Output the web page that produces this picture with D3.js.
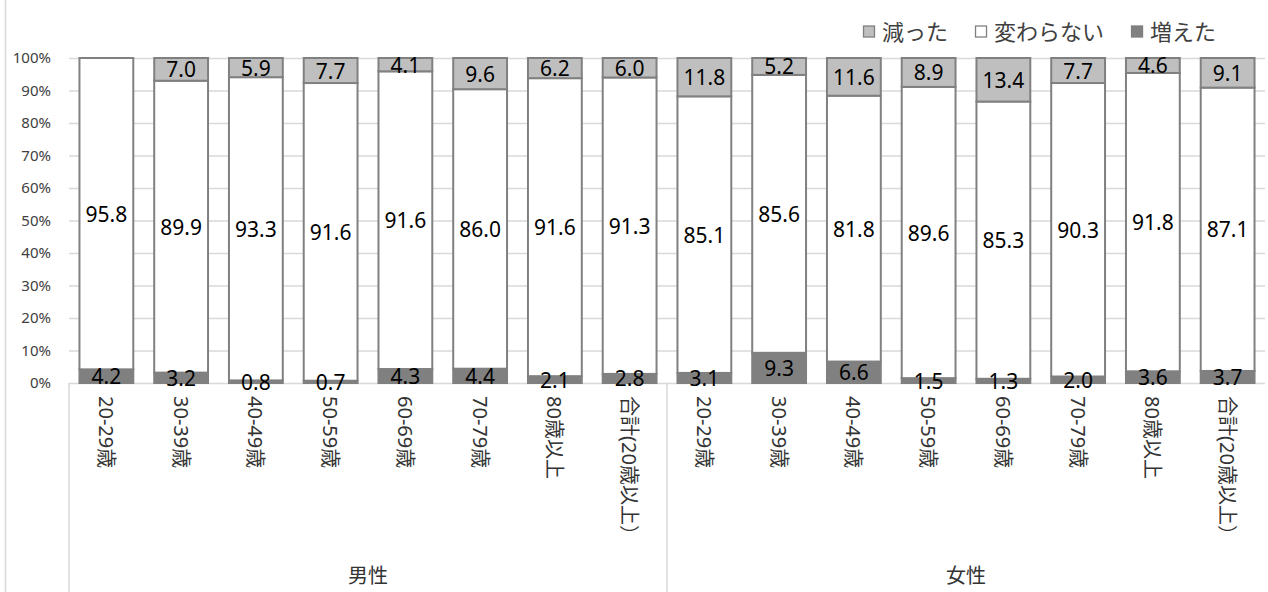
<!DOCTYPE html>
<html><head><meta charset="utf-8">
<script src="https://cdn.jsdelivr.net/npm/d3@7"></script>
<style>
body{margin:0;background:#fff}
svg{display:block}
text{font-family:"Noto Sans","Noto Sans CJK JP",sans-serif}
</style>
</head><body>
<svg id="c" width="1268" height="592"></svg>
<script>
// ---- data ----
const groups = ["男性", "女性"];
const ageLabels = ["20-29歳", "30-39歳", "40-49歳", "50-59歳", "60-69歳", "70-79歳", "80歳以上", "合計(20歳以上）"];
const seriesNames = ["増えた", "変わらない", "減った"];
const legendOrder = ["減った", "変わらない", "増えた"];
const yTickValues = [0, 0.1, 0.2, 0.3, 0.4, 0.5, 0.6, 0.7, 0.8, 0.9, 1.0];

const maleIncreased  = [4.2, 3.2, 0.8, 0.7, 4.3, 4.4, 2.1, 2.8];
const maleSame       = [95.8, 89.9, 93.3, 91.6, 91.6, 86.0, 91.6, 91.3];
const maleDecreased  = [0, 7.0, 5.9, 7.7, 4.1, 9.6, 6.2, 6.0];
const femaleIncreased = [3.1, 9.3, 6.6, 1.5, 1.3, 2.0, 3.6, 3.7];
const femaleSame      = [85.1, 85.6, 81.8, 89.6, 85.3, 90.3, 91.8, 87.1];
const femaleDecreased = [11.8, 5.2, 11.6, 8.9, 13.4, 7.7, 4.6, 9.1];

// ---- build rows ----
const rows = [];
groups.forEach((g, gi) => {
  const inc = gi === 0 ? maleIncreased : femaleIncreased;
  const same = gi === 0 ? maleSame : femaleSame;
  const dec = gi === 0 ? maleDecreased : femaleDecreased;
  ageLabels.forEach((a, i) => {
    rows.push({key: g + "|" + a, group: g, age: a, "増えた": inc[i], "変わらない": same[i], "減った": dec[i]});
  });
});

const colors = {"増えた": "#808080", "変わらない": "#ffffff", "減った": "#bfbfbf"};

// ---- layout ----
const W = 1268, H = 592;
const plot = {left: 69, right: 1265, top: 58, bottom: 383};
const svg = d3.select("#c");

const x = d3.scaleBand().domain(rows.map(d => d.key))
  .range([plot.left, plot.right]).paddingInner(0.28).paddingOuter(0.14);
const y = d3.scaleLinear().domain([0, 1]).range([plot.bottom, plot.top]);

// left frame line
svg.append("line").attr("x1", 5.5).attr("x2", 5.5).attr("y1", 0).attr("y2", H)
  .attr("stroke", "#d9d9d9").attr("stroke-width", 1.5);

// y axis + gridlines
const yAxis = d3.axisLeft(y).tickValues(yTickValues).tickFormat(d3.format(".0%"))
  .tickSizeInner(-(plot.right - plot.left)).tickSizeOuter(0).tickPadding(18);
const ga = svg.append("g").attr("transform", `translate(${plot.left},0)`).call(yAxis);
ga.select(".domain").remove();
ga.selectAll(".tick line").attr("stroke", "#d9d9d9").attr("stroke-width", 1.5);
ga.selectAll(".tick text").attr("font-size", 15).attr("fill", "#404040")
  .style("font-family", '"Noto Sans","Noto Sans CJK JP",sans-serif');

// group separators in axis area
const step = x.step();
d3.range(groups.length).forEach(gi => {
  const xs = plot.left + gi * ageLabels.length * step;
  svg.append("line").attr("x1", xs).attr("x2", xs).attr("y1", plot.bottom).attr("y2", H)
    .attr("stroke", "#d9d9d9").attr("stroke-width", 1.5);
});

// stacked bars
const stack = d3.stack().keys(seriesNames).offset(d3.stackOffsetExpand);
const series = stack(rows);

series.forEach(s => {
  const g = svg.append("g");
  s.forEach(seg => {
    if (seg.data[s.key] <= 0) return;
    g.append("rect")
      .attr("x", x(seg.data.key))
      .attr("width", x.bandwidth())
      .attr("y", y(seg[1]))
      .attr("height", y(seg[0]) - y(seg[1]))
      .attr("fill", colors[s.key])
      .attr("stroke", "#808080")
      .attr("stroke-width", 2);
  });
});

// data labels
series.forEach(s => {
  s.forEach(seg => {
    const v = seg.data[s.key];
    if (v <= 0) return;
    svg.append("text")
      .attr("x", x(seg.data.key) + x.bandwidth() / 2)
      .attr("y", y((seg[0] + seg[1]) / 2))
      .attr("text-anchor", "middle")
      .attr("dominant-baseline", "central")
      .attr("font-size", 21)
      .attr("fill", "#000")
      .text(d3.format(".1f")(v));
  });
});

// category labels (rotated)
rows.forEach(d => {
  const cx = x(d.key) + x.bandwidth() / 2;
  svg.append("text")
    .attr("transform", `translate(${cx},396) rotate(90)`)
    .attr("text-anchor", "start")
    .attr("dominant-baseline", "central")
    .attr("font-size", 20)
    .attr("fill", "#333")
    .text(d.age);
});

// group labels
groups.forEach((g, gi) => {
  const cx = plot.left + (gi + 0.5) * ageLabels.length * step;
  svg.append("text")
    .attr("x", cx).attr("y", 575)
    .attr("text-anchor", "middle")
    .attr("dominant-baseline", "central")
    .attr("font-size", 20)
    .attr("fill", "#333")
    .text(g);
});

// legend
let lx = 863;
const ly = 31;
legendOrder.forEach(k => {
  svg.append("rect").attr("x", lx + 0.5).attr("y", ly - 5).attr("width", 11).attr("height", 11)
    .attr("fill", colors[k]).attr("stroke", "#808080").attr("stroke-width", 1.3);
  const t = svg.append("text").attr("x", lx + 19).attr("y", ly)
    .attr("dominant-baseline", "central")
    .attr("font-size", 22).attr("fill", "#404040").text(k);
  lx = lx + 19 + t.node().getComputedTextLength() + 27;
});
</script>
</body></html>
